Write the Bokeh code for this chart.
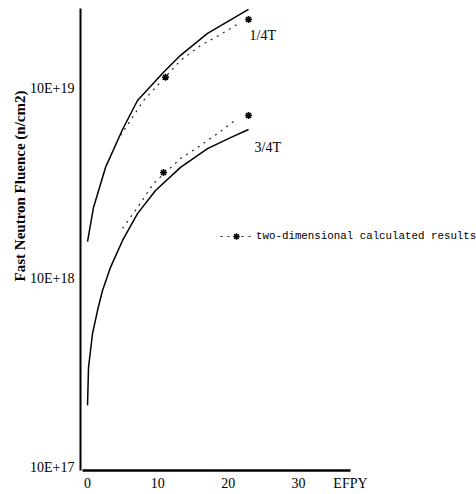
from bokeh.plotting import figure
from bokeh.models import (FixedTicker, CustomJSTickFormatter, Legend,
                          LegendItem, Range1d, Title)
from bokeh.core.properties import value
from bokeh.embed import file_html
from bokeh.resources import INLINE

# ---------------- data ----------------
# 1/4T location
t_q14_fit = [0.0, 0.85, 2.56, 4.98, 7.11, 10.81, 13.23, 17.07, 22.90]
f_q14_fit = [1.56e18, 2.36e18, 3.84e18, 6.09e18, 8.66e18, 1.22e19, 1.50e19, 1.96e19, 2.62e19]
t_q14_2d = [4.69, 7.97, 13.23, 16.07, 19.20, 21.76]
f_q14_2d = [5.66e18, 8.66e18, 1.41e19, 1.69e19, 1.96e19, 2.24e19]

# 3/4T location
t_q34_fit = [0.0, 0.14, 0.71, 1.42, 2.13, 3.27, 4.98, 7.11, 9.67, 13.23, 17.07, 20.34, 22.90]
f_q34_fit = [2.13e17, 3.37e17, 5.10e17, 6.74e17, 8.60e17, 1.14e18, 1.58e18, 2.19e18,
             2.90e18, 3.84e18, 4.83e18, 5.52e18, 6.09e18]
t_q34_2d = [4.98, 6.83, 9.39, 13.23, 15.65, 18.49, 21.34]
f_q34_2d = [1.83e18, 2.28e18, 3.16e18, 4.28e18, 4.89e18, 5.80e18, 6.96e18]

# two-dimensional calculated results (star points)
t_stars = [11.10, 22.90, 10.81, 22.90]
f_stars = [1.15e19, 2.32e19, 3.61e18, 7.22e18]

# curve labels
curve_labels = ["1/4T", "3/4T"]
curve_label_t = [23.04, 23.76]
curve_label_f = [1.91e19, 4.89e18]

x_ticks = [0, 10, 20, 30]
x_title = "EFPY"
x_title_at = 37.4          # EFPY sits at the end of the x axis, in line with the tick labels
y_ticks = [1e17, 1e18, 1e19]
y_tick_labels = ["10E+17", "10E+18", "10E+19"]
y_title = "Fast Neutron Fluence (n/cm2)"
legend_label = "two-dimensional calculated results"

# ---------------- figure ----------------
SERIF = "Liberation Serif"
p = figure(frame_width=396, frame_height=462, y_axis_type="log",
           x_range=Range1d(-1.0, 55.33), y_range=Range1d(9.642e16, 2.651e19),
           output_backend="svg", toolbar_location=None,
           min_border_left=80, min_border_right=0, min_border_top=8,
           min_border_bottom=24, background_fill_color="white",
           border_fill_color="white")
p.outline_line_color = None
p.xgrid.visible = False
p.ygrid.visible = False

# x axis
xa = p.xaxis[0]
xa.ticker = FixedTicker(ticks=x_ticks + [x_title_at], minor_ticks=[])
xa.formatter = CustomJSTickFormatter(
    args=dict(tpos=x_title_at, ttext=x_title),
    code="""
if (Math.abs(tick - tpos) < 1e-6) { return ttext; }
return String(Math.round(tick));
""")
xa.bounds = (-0.7, x_title_at)
xa.axis_line_width = 2.5
xa.axis_line_color = "black"
xa.major_tick_in = 0
xa.major_tick_out = 0
xa.minor_tick_line_color = None
xa.major_label_standoff = 5
xa.major_label_text_font = SERIF
xa.major_label_text_font_size = "14px"
xa.major_label_text_color = "black"

# y axis
ya = p.yaxis[0]
ya.ticker = FixedTicker(ticks=y_ticks, minor_ticks=[])
ya.formatter = CustomJSTickFormatter(
    args=dict(tvals=y_ticks, tlabels=y_tick_labels),
    code="""
const i = tvals.findIndex(t => Math.abs(Math.log10(t) - Math.log10(tick)) < 1e-6);
return i >= 0 ? tlabels[i] : "";
""")
ya.axis_line_width = 2
ya.axis_line_color = "black"
ya.major_tick_in = 0
ya.major_tick_out = 0
ya.minor_tick_line_color = None
ya.major_label_standoff = 6
ya.major_label_text_font = SERIF
ya.major_label_text_font_size = "14px"
ya.major_label_text_color = "black"

# y title as a left-side title, its upper end placed where the reference has it
p.add_layout(Title(text=y_title, align="right", offset=82, text_font=SERIF,
                   text_font_style="bold", text_font_size="15px",
                   text_color="black", standoff=0), "left")

# curves
p.line(t_q14_fit, f_q14_fit, line_color="black", line_width=1.5)
p.line(t_q34_fit, f_q34_fit, line_color="black", line_width=1.5)
r_dot = p.line(t_q14_2d, f_q14_2d, line_color="#222222", line_width=1.2, line_dash="2 5")
p.line(t_q34_2d, f_q34_2d, line_color="#222222", line_width=1.2, line_dash="2 5")
r_star = p.scatter(t_stars, f_stars, marker="asterisk", size=7, line_width=1.6,
                   line_color="black")

p.text(curve_label_t, curve_label_f, text=curve_labels, text_font=value(SERIF),
       text_font_size="14px", text_baseline="middle", text_align="left",
       text_color="black")

legend = Legend(items=[LegendItem(label=legend_label, renderers=[r_dot, r_star])],
                location=(140, 226), glyph_width=32, glyph_height=16,
                label_height=16, label_standoff=4, padding=0, margin=0, spacing=0,
                border_line_color=None, background_fill_alpha=0,
                label_text_font="Liberation Mono", label_text_font_size="10.8px",
                label_text_color="black")
p.add_layout(legend)

open("out.html", "w").write(file_html(p, INLINE))
